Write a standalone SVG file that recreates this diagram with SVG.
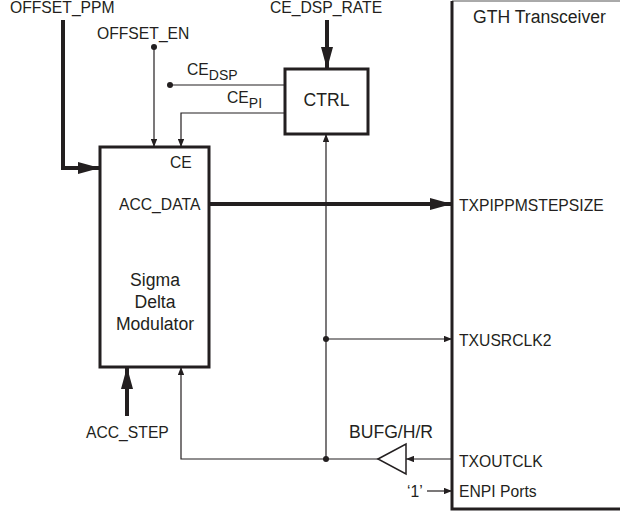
<svg xmlns="http://www.w3.org/2000/svg" width="620" height="515" viewBox="0 0 620 515">
<defs>
<style>
text{font-family:"Liberation Sans",Arial,sans-serif;fill:#231f20}
.l{font-size:15.7px}
.t{font-size:17.6px}
.s{font-size:14px}
.box{fill:#fff;stroke:#231f20;stroke-width:3}
.thin{fill:none;stroke:#231f20;stroke-width:1.2}
.thick{fill:none;stroke:#231f20;stroke-width:4}
.dot{fill:#231f20}
</style>
<marker id="ah" viewBox="0 0 10 8" refX="10" refY="4" markerWidth="8" markerHeight="6.4" markerUnits="userSpaceOnUse" orient="auto">
<path d="M0,0 L10,4 L0,8 z" fill="#231f20"/>
</marker>
<marker id="ahb" viewBox="0 0 22 12" refX="22" refY="6" markerWidth="22" markerHeight="12" markerUnits="userSpaceOnUse" orient="auto">
<path d="M0,0 L22,6 L0,12 z" fill="#231f20"/>
</marker>
</defs>

<g id="gth">
<line x1="452" y1="1" x2="622" y2="1" stroke="#555" stroke-width="1"/>
<path d="M452,1 V509 H622" fill="none" stroke="#231f20" stroke-width="3"/>
<text class="t" x="473" y="23">GTH Transceiver</text>
<text class="l" x="459" y="211">TXPIPPMSTEPSIZE</text>
<text class="l" x="459" y="346">TXUSRCLK2</text>
<text class="l" x="459" y="467">TXOUTCLK</text>
<text class="l" x="459" y="497">ENPI Ports</text>
</g>

<g id="sdm">
<rect class="box" x="100" y="147" width="109" height="220"/>
<text class="l" x="170" y="168">CE</text>
<text class="l" x="119" y="210">ACC_DATA</text>
<text class="t" x="155" y="286" text-anchor="middle">Sigma</text>
<text class="t" x="155" y="308" text-anchor="middle">Delta</text>
<text class="t" x="155" y="330" text-anchor="middle">Modulator</text>
</g>

<g id="ctrl">
<rect class="box" x="285" y="69" width="83" height="65"/>
<text class="t" x="326.5" y="106" text-anchor="middle">CTRL</text>
</g>

<g id="bufg">
<polygon points="378,459 406,444 406,474" fill="#fff" stroke="#231f20" stroke-width="1.5"/>
<text class="t" x="349" y="438">BUFG/H/R</text>
</g>

<g id="labels">
<text class="l" x="10" y="13">OFFSET_PPM</text>
<text class="l" x="270" y="13">CE_DSP_RATE</text>
<text class="l" x="97" y="39">OFFSET_EN</text>
<text class="l" x="187" y="75">CE<tspan class="s" dy="5">DSP</tspan></text>
<text class="l" x="227" y="103">CE<tspan class="s" dy="5">PI</tspan></text>
<text class="l" x="86" y="438">ACC_STEP</text>
<text class="l" x="407" y="497">‘1’</text>
</g>

<g id="connectors">
<path class="thick" d="M63,20 V168 H100" marker-end="url(#ahb)"/>
<path class="thick" d="M327,20 V69" marker-end="url(#ahb)"/>
<path class="thick" d="M209,204 H452" marker-end="url(#ahb)"/>
<path class="thick" d="M127,416 V367" marker-end="url(#ahb)"/>
<path class="thin" d="M154,47 V147" marker-end="url(#ah)"/>
<circle class="dot" cx="154" cy="47" r="3"/>
<path class="thin" d="M170,85 H285"/>
<circle class="dot" cx="170" cy="85" r="3"/>
<path class="thin" d="M285,113 H181 V147" marker-end="url(#ah)"/>
<path class="thin" d="M326,459 V134" marker-end="url(#ah)"/>
<path class="thin" d="M326,339 H452" marker-end="url(#ah)"/>
<circle class="dot" cx="326" cy="339" r="3"/>
<path class="thin" d="M452,459 H406" marker-end="url(#ah)"/>
<path class="thin" d="M378,459 H181 V367" marker-end="url(#ah)"/>
<circle class="dot" cx="326" cy="459" r="3"/>
<path class="thin" d="M427,491 H452" marker-end="url(#ah)"/>
</g>
</svg>
